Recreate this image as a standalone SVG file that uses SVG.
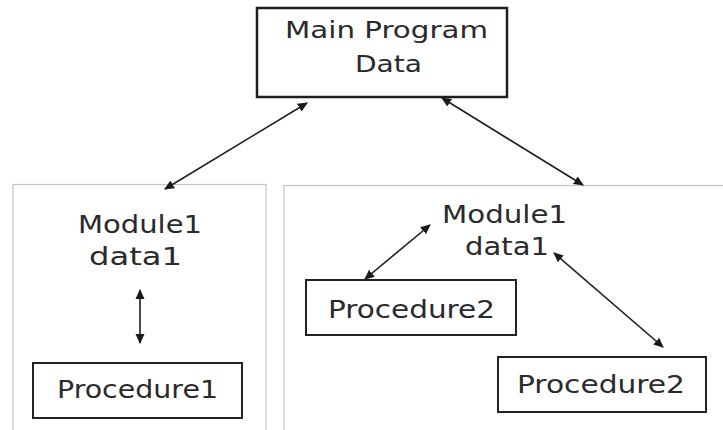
<svg xmlns="http://www.w3.org/2000/svg" width="723" height="430" viewBox="0 0 723 430">
  <defs>
    <marker id="head" viewBox="0 0 10 10" refX="9" refY="5" markerWidth="10" markerHeight="10" markerUnits="userSpaceOnUse" orient="auto-start-reverse">
      <path d="M0,0.5 L10,5 L0,9.5 Z" fill="#1a1a1a"/>
    </marker>
    <style>
      .label { font-family: "DejaVu Sans", "Liberation Sans", sans-serif; fill: #2a2a2a; }
      .main { stroke: #1e1e1e; stroke-width: 2.5; fill: #fff; }
      .frame { stroke: #c4c4c4; stroke-width: 1.2; fill: #fff; }
      .proc { stroke: #222; stroke-width: 2; fill: #fff; }
      .link { stroke: #1e1e1e; stroke-width: 1.6; fill: none; marker-start: url(#head); marker-end: url(#head); }
    </style>
  </defs>
  <rect width="723" height="430" fill="#fff"/>

  <!-- module frames -->
  <g id="module-left">
    <rect class="frame" x="13" y="184.5" width="253" height="260"/>
    <text class="label" x="78" y="233" font-size="25" textLength="124" lengthAdjust="spacingAndGlyphs">Module1</text>
    <text class="label" x="89" y="265" font-size="25" textLength="93" lengthAdjust="spacingAndGlyphs">data1</text>
  </g>
  <g id="module-right">
    <rect class="frame" x="284" y="185.5" width="460" height="260"/>
    <text class="label" x="442" y="223" font-size="25" textLength="125" lengthAdjust="spacingAndGlyphs">Module1</text>
    <text class="label" x="465" y="255" font-size="25" textLength="84" lengthAdjust="spacingAndGlyphs">data1</text>
  </g>

  <!-- main program -->
  <g id="main-program">
    <rect class="main" x="257" y="8" width="250" height="89"/>
    <text class="label" x="285" y="38" font-size="23" textLength="203" lengthAdjust="spacingAndGlyphs">Main Program</text>
    <text class="label" x="355" y="72" font-size="23" textLength="67" lengthAdjust="spacingAndGlyphs">Data</text>
  </g>

  <!-- procedures -->
  <g id="procedure1">
    <rect class="proc" x="33" y="363" width="209" height="55"/>
    <text class="label" x="57" y="398" font-size="24" textLength="161" lengthAdjust="spacingAndGlyphs">Procedure1</text>
  </g>
  <g id="procedure2-a">
    <rect class="proc" x="306" y="280" width="210" height="55"/>
    <text class="label" x="328" y="318" font-size="24" textLength="167" lengthAdjust="spacingAndGlyphs">Procedure2</text>
  </g>
  <g id="procedure2-b">
    <rect class="proc" x="498" y="357" width="208" height="55"/>
    <text class="label" x="517" y="393" font-size="24" textLength="168" lengthAdjust="spacingAndGlyphs">Procedure2</text>
  </g>

  <!-- connectors -->
  <g id="connectors">
    <line class="link" x1="165" y1="189" x2="307" y2="103"/>
    <line class="link" x1="442" y1="98" x2="583" y2="185"/>
    <line class="link" x1="140" y1="290" x2="140" y2="343"/>
    <line class="link" x1="365" y1="279" x2="430" y2="225"/>
    <line class="link" x1="554" y1="253" x2="663" y2="347"/>
  </g>
</svg>
